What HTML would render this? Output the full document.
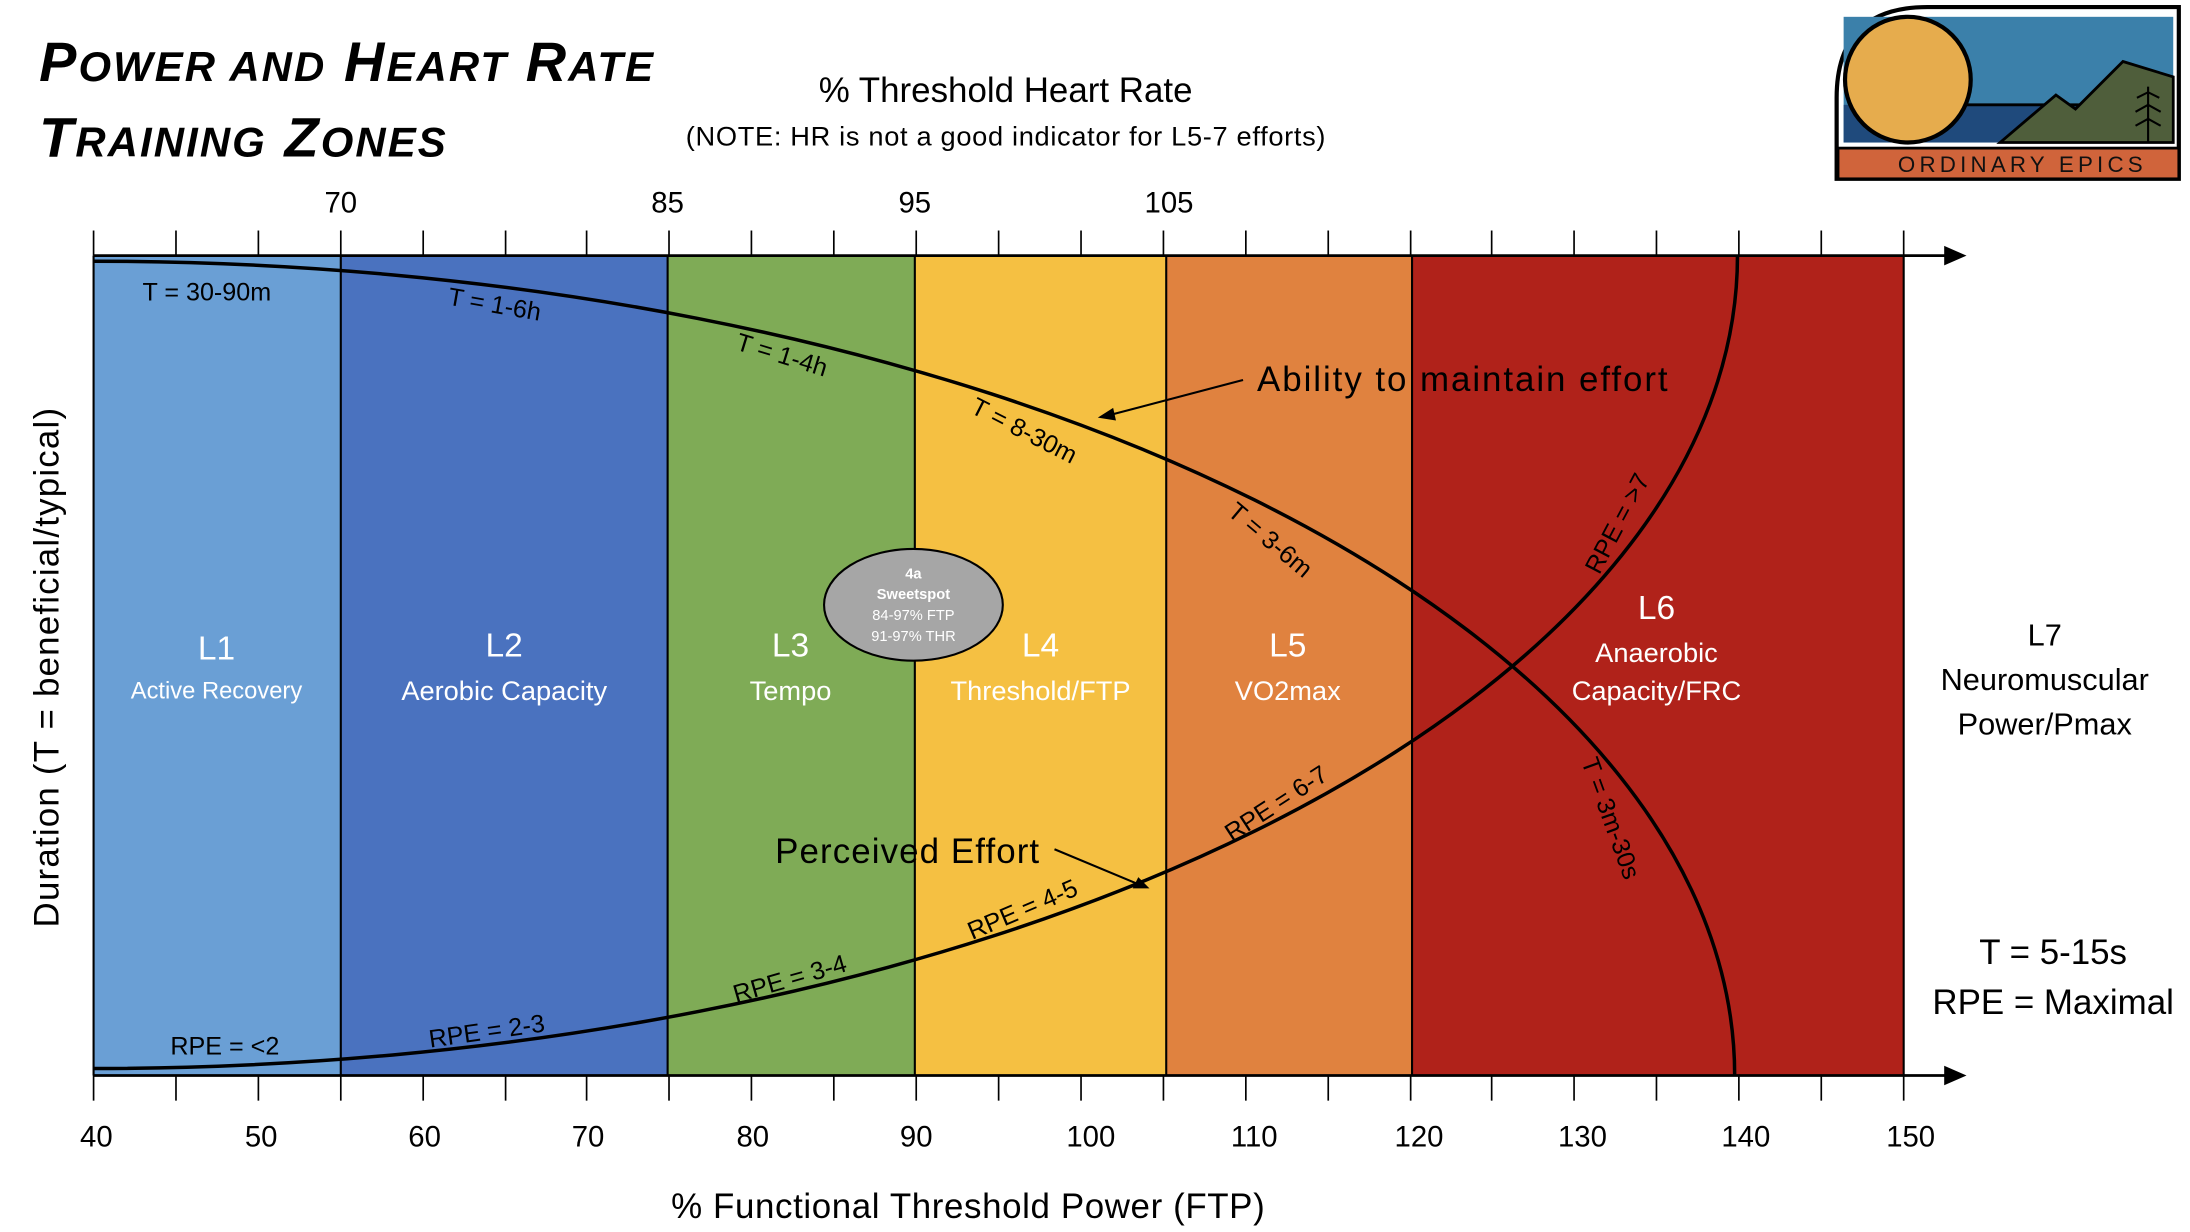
<!DOCTYPE html>
<html><head><meta charset="utf-8"><style>
html,body{margin:0;padding:0;background:#fff;}
svg{display:block;}
text{font-family:"Liberation Sans",sans-serif;}
</style></head><body>
<svg width="2190" height="1232" viewBox="0 0 1568 882" xmlns="http://www.w3.org/2000/svg">
<rect width="1568" height="882" fill="#fff"/>
<text x="28" y="58" font-size="40" font-weight="bold" font-style="italic" fill="#000" letter-spacing="1.5">P<tspan font-size="30">OWER AND</tspan> H<tspan font-size="30">EART</tspan> R<tspan font-size="30">ATE</tspan></text>
<text x="28" y="112" font-size="40" font-weight="bold" font-style="italic" fill="#000" letter-spacing="1.5">T<tspan font-size="30">RAINING</tspan> Z<tspan font-size="30">ONES</tspan></text>
<text x="720" y="73" font-size="25" text-anchor="middle">% Threshold Heart Rate</text>
<text x="720" y="104" font-size="19.5" text-anchor="middle" textLength="458">(NOTE: HR is not a good indicator for L5-7 efforts)</text>
<g>
<path d="M1315,128 L1315,70 Q1315,5 1380,5 L1560,5 L1560,128 Z" fill="#fff" stroke="#000" stroke-width="3"/>
<rect x="1320" y="12" width="236" height="90" fill="#3b80aa"/>
<rect x="1320" y="75" width="236" height="27" fill="#1f4a7c"/>
<line x1="1370" y1="75" x2="1556" y2="75" stroke="#000" stroke-width="2"/>
<polygon points="1432,102 1472,68 1486,78 1520,44 1556,55 1556,102" fill="#4f5e3b" stroke="#000" stroke-width="2"/>
<g stroke="#000" stroke-width="1.5" fill="none">
<line x1="1538" y1="62" x2="1538" y2="102"/>
<path d="M1530,70 L1538,66 L1546,70 M1529,80 L1538,75 L1547,80 M1529,90 L1538,85 L1547,90"/>
</g>
<circle cx="1366" cy="57" r="45" fill="#e6ac4d" stroke="#000" stroke-width="3"/>
<rect x="1316" y="106" width="244" height="22" fill="#d0643b" stroke="#000" stroke-width="2"/>
<text x="1448" y="123" font-size="16" text-anchor="middle" letter-spacing="3" fill="#111">ORDINARY EPICS</text>
</g>
<rect x="67" y="183" width="177" height="587" fill="#6a9fd5"/>
<rect x="244" y="183" width="234" height="587" fill="#4a72bf"/>
<rect x="478" y="183" width="177" height="587" fill="#7fab56"/>
<rect x="655" y="183" width="180" height="587" fill="#f5c042"/>
<rect x="835" y="183" width="176" height="587" fill="#e0823f"/>
<rect x="1011" y="183" width="352" height="587" fill="#b0221a"/>
<g stroke="#000" stroke-width="1.5">
<line x1="67" y1="183" x2="67" y2="770"/><line x1="244" y1="183" x2="244" y2="770"/>
<line x1="478" y1="183" x2="478" y2="770"/><line x1="655" y1="183" x2="655" y2="770"/>
<line x1="835" y1="183" x2="835" y2="770"/><line x1="1011" y1="183" x2="1011" y2="770"/>
<line x1="1363" y1="183" x2="1363" y2="770"/>
</g>
<g stroke="#000" stroke-width="2">
<line x1="67" y1="183" x2="1395" y2="183"/>
<line x1="67" y1="770" x2="1395" y2="770"/>
</g>
<polygon points="1392,176 1408,183 1392,190" fill="#000"/>
<polygon points="1392,763 1408,770 1392,777" fill="#000"/>
<g stroke="#000" stroke-width="1.2" id="bt">
<line x1="67" y1="770" x2="67" y2="788"/><line x1="126" y1="770" x2="126" y2="788"/><line x1="185" y1="770" x2="185" y2="788"/><line x1="244" y1="770" x2="244" y2="788"/><line x1="303" y1="770" x2="303" y2="788"/><line x1="362" y1="770" x2="362" y2="788"/><line x1="420" y1="770" x2="420" y2="788"/><line x1="479" y1="770" x2="479" y2="788"/><line x1="538" y1="770" x2="538" y2="788"/><line x1="597" y1="770" x2="597" y2="788"/><line x1="656" y1="770" x2="656" y2="788"/><line x1="715" y1="770" x2="715" y2="788"/><line x1="774" y1="770" x2="774" y2="788"/><line x1="833" y1="770" x2="833" y2="788"/><line x1="892" y1="770" x2="892" y2="788"/><line x1="951" y1="770" x2="951" y2="788"/><line x1="1010" y1="770" x2="1010" y2="788"/><line x1="1068" y1="770" x2="1068" y2="788"/><line x1="1127" y1="770" x2="1127" y2="788"/><line x1="1186" y1="770" x2="1186" y2="788"/><line x1="1245" y1="770" x2="1245" y2="788"/><line x1="1304" y1="770" x2="1304" y2="788"/><line x1="1363" y1="770" x2="1363" y2="788"/>
</g>
<use href="#bt" transform="translate(0,-605)"/>
<g font-size="21" text-anchor="middle">
<text x="69" y="821">40</text><text x="187" y="821">50</text><text x="304" y="821">60</text><text x="421" y="821">70</text><text x="539" y="821">80</text><text x="656" y="821">90</text><text x="781" y="821">100</text><text x="898" y="821">110</text><text x="1016" y="821">120</text><text x="1133" y="821">130</text><text x="1250" y="821">140</text><text x="1368" y="821">150</text>
<text x="244" y="152">70</text><text x="478" y="152">85</text><text x="655" y="152">95</text><text x="837" y="152">105</text>
</g>
<text x="693" y="872" font-size="25" text-anchor="middle" textLength="425">% Functional Threshold Power (FTP)</text>
<text transform="translate(42,478) rotate(-90)" font-size="25" text-anchor="middle" textLength="372">Duration (T = beneficial/typical)</text>
<path d="M67,187 A1175,583 0 0 1 1242,770" fill="none" stroke="#000" stroke-width="2.5"/>
<path d="M67,765 A1177,582 0 0 0 1244,183" fill="none" stroke="#000" stroke-width="2.5"/>
<g font-size="18" fill="#000">
<text x="102" y="215">T = 30-90m</text>
<text transform="translate(320,218) rotate(10)">T = 1-6h</text>
<text transform="translate(526,250) rotate(17)">T = 1-4h</text>
<text transform="translate(694,295) rotate(27)">T = 8-30m</text>
<text transform="translate(878,368) rotate(40)">T = 3-6m</text>
<text transform="translate(1132,545) rotate(70)">T = 3m-30s</text>
<text x="122" y="755">RPE = &lt;2</text>
<text transform="translate(308,750) rotate(-8)">RPE = 2-3</text>
<text transform="translate(527,718) rotate(-16)">RPE = 3-4</text>
<text transform="translate(696,673) rotate(-23)">RPE = 4-5</text>
<text transform="translate(882,603) rotate(-33)">RPE = 6-7</text>
<text transform="translate(1145,412) rotate(-62)">RPE = &gt;7</text>
</g>
<text x="900" y="280" font-size="25" textLength="294">Ability to maintain effort</text>
<line x1="890" y1="272" x2="795" y2="297" stroke="#000" stroke-width="1.5"/>
<polygon points="786,299 797,292 799,301" fill="#000"/>
<text x="555" y="618" font-size="25" textLength="189">Perceived Effort</text>
<line x1="755" y1="608" x2="815" y2="633" stroke="#000" stroke-width="1.5"/>
<polygon points="823,636 811,636 815,628" fill="#000"/>
<g fill="#fff" text-anchor="middle">
<text x="155" y="472" font-size="24">L1</text><text x="155" y="500" font-size="17">Active Recovery</text>
<text x="361" y="470" font-size="24">L2</text><text x="361" y="501" font-size="19.5">Aerobic Capacity</text>
<text x="566" y="470" font-size="24">L3</text><text x="566" y="501" font-size="19.5">Tempo</text>
<text x="745" y="470" font-size="24">L4</text><text x="745" y="501" font-size="19.5">Threshold/FTP</text>
<text x="922" y="470" font-size="24">L5</text><text x="922" y="501" font-size="19.5">VO2max</text>
<text x="1186" y="443" font-size="24">L6</text><text x="1186" y="474" font-size="19.5">Anaerobic</text><text x="1186" y="501" font-size="19.5">Capacity/FRC</text>
</g>
<g text-anchor="middle" font-size="22">
<text x="1464" y="462">L7</text><text x="1464" y="494">Neuromuscular</text><text x="1464" y="526">Power/Pmax</text>
<text x="1470" y="690" font-size="25">T = 5-15s</text><text x="1470" y="726" font-size="25">RPE = Maximal</text>
</g>
<ellipse cx="654" cy="433" rx="64" ry="40" fill="#a6a6a6" stroke="#000" stroke-width="1.5"/>
<g fill="#fff" text-anchor="middle" font-size="10.5">
<text x="654" y="414" font-weight="bold">4a</text>
<text x="654" y="429" font-weight="bold">Sweetspot</text>
<text x="654" y="444">84-97% FTP</text>
<text x="654" y="459">91-97% THR</text>
</g>
</svg>
</body></html>
